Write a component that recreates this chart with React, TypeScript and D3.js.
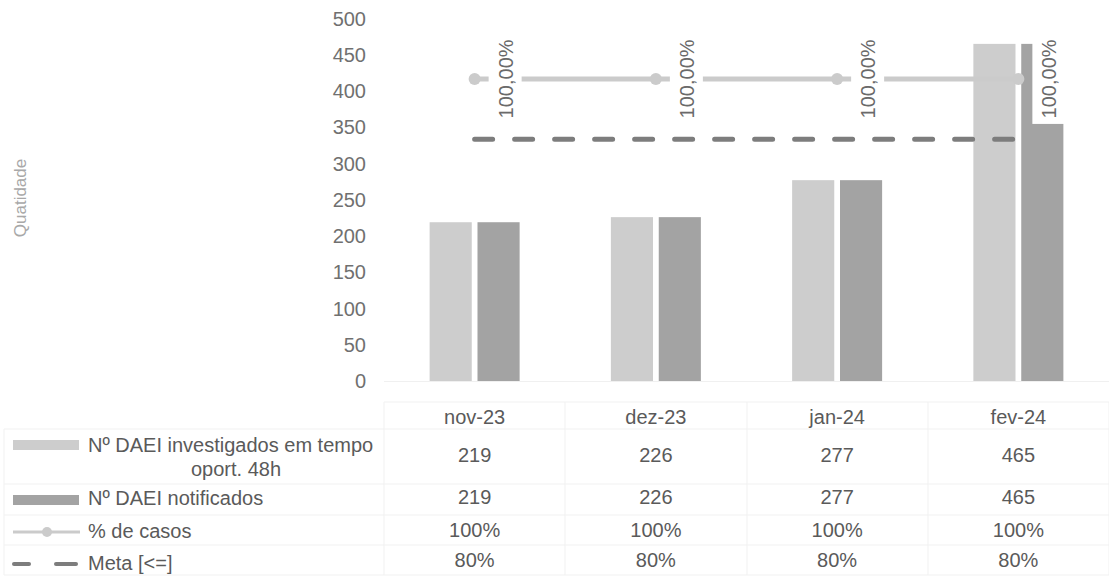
import React from "react";
import * as d3 from "d3";

const categories = ["nov-23", "dez-23", "jan-24", "fev-24"];
const investigados = [219, 226, 277, 465];
const notificados = [219, 226, 277, 465];
const pctCasos = [1, 1, 1, 1];
const meta = [0.8, 0.8, 0.8, 0.8];
const yTicks = [0, 50, 100, 150, 200, 250, 300, 350, 400, 450, 500];
const seriesNames = ["Nº DAEI investigados em tempo oport. 48h", "Nº DAEI notificados", "% de casos", "Meta [<=]"];
const pctRowLabels = ["100%", "100%", "100%", "100%"];
const metaRowLabels = ["80%", "80%", "80%", "80%"];

const FONT = "Liberation Sans, Arial, sans-serif";
const LIGHT = "#cdcdcd";
const DARK = "#a3a3a3";
const PCT = "#cbcbcb";
const META = "#7d7d7d";
const TXT = "#5a5a5a";
const FS = 20;

export default function App() {
  const W = 1109, H = 577;
  const plotLeft = 384, plotRight = 1109;
  const y0 = 381, yTop = 18.5;

  const x = d3.scaleBand<string>().domain(categories).range([plotLeft, plotRight]).padding(0);
  const sub = d3.scaleBand<string>().domain(["a", "b"]).range([-45, 45]).paddingInner(0.12);
  const y = d3.scaleLinear().domain([0, 500]).range([y0, yTop]);
  const y2 = d3.scaleLinear().domain([0, 1.2]).range([y0, yTop]);
  const cx = (c: string) => (x(c) as number) + x.bandwidth() / 2;

  const lineGen = d3.line<number>().x((_, i) => cx(categories[i])).y((d) => y2(d));

  const rowY = { header: 417, r1: 455, r2: 497, r3: 530, r4: 560 };
  const hLines = [402, 429, 484, 515, 545, 575];
  const vLines = [4, 384, 565, 747, 928, 1109];

  return (
    <svg width={W} height={H} style={{ position: "absolute", left: 0, top: 0, background: "#fff" }} fontFamily={FONT}>
      <rect x={0} y={0} width={W} height={H} fill="#fff" />
      {/* y-axis title */}
      <text transform="translate(20,198) rotate(-90)" textAnchor="middle" dominantBaseline="central" fontSize={17} fill="#a8a8a8">
        Quatidade
      </text>
      {/* y ticks */}
      {yTicks.map((t) => (
        <text key={t} x={366} y={y(t)} textAnchor="end" dominantBaseline="central" fontSize={FS} fill="#707070">
          {t}
        </text>
      ))}
      {/* faint baseline */}
      <line x1={plotLeft} x2={plotRight} y1={y0 + 0.5} y2={y0 + 0.5} stroke="#f0f0f0" />
      {/* bars */}
      {categories.map((c, i) => (
        <g key={c}>
          <rect x={cx(c) + (sub("a") as number)} y={y(investigados[i])} width={sub.bandwidth()} height={y0 - y(investigados[i])} fill={LIGHT} />
          <rect x={cx(c) + (sub("b") as number)} y={y(notificados[i])} width={sub.bandwidth()} height={y0 - y(notificados[i])} fill={DARK} />
        </g>
      ))}
      {/* meta dashed line */}
      <path d={lineGen(meta) || ""} fill="none" stroke={META} strokeWidth={5} strokeDasharray="18 22" strokeLinecap="round" />
      {/* percent line */}
      <path d={lineGen(pctCasos) || ""} fill="none" stroke={PCT} strokeWidth={5} />
      {pctCasos.map((v, i) => (
        <circle key={i} cx={cx(categories[i])} cy={y2(v)} r={6} fill={PCT} />
      ))}
      {/* data labels */}
      {pctCasos.map((v, i) => {
        const px = cx(categories[i]);
        const py = y2(v);
        return (
          <g key={"l" + i}>
            <rect x={px + 14} y={py - 45} width={33} height={90} fill="#fff" />
            <text transform={`translate(${px + 31},${py}) rotate(-90)`} textAnchor="middle" dominantBaseline="central" fontSize={FS} fill="#6a6a6a">
              {d3.format(".2f")(v * 100).replace(".", ",") + "%"}
            </text>
          </g>
        );
      })}
      {/* table grid */}
      <g stroke="#f1f1f1" strokeWidth={1}>
        <line x1={plotLeft} x2={plotRight} y1={hLines[0]} y2={hLines[0]} />
        {hLines.slice(1).map((h) => (
          <line key={h} x1={vLines[0]} x2={plotRight} y1={h} y2={h} />
        ))}
        <line x1={vLines[0]} x2={vLines[0]} y1={hLines[1]} y2={hLines[5]} />
        {vLines.slice(1).map((v) => (
          <line key={v} x1={v} x2={v} y1={hLines[0]} y2={hLines[5]} />
        ))}
      </g>
      {/* table header */}
      {categories.map((c) => (
        <text key={"h" + c} x={cx(c)} y={rowY.header} textAnchor="middle" dominantBaseline="central" fontSize={FS} fill={TXT}>
          {c}
        </text>
      ))}
      {/* table values */}
      {categories.map((c, i) => (
        <g key={"v" + c} fontSize={FS} fill={TXT} textAnchor="middle">
          <text x={cx(c)} y={rowY.r1} dominantBaseline="central">{investigados[i]}</text>
          <text x={cx(c)} y={rowY.r2} dominantBaseline="central">{notificados[i]}</text>
          <text x={cx(c)} y={rowY.r3} dominantBaseline="central">{pctRowLabels[i]}</text>
          <text x={cx(c)} y={rowY.r4} dominantBaseline="central">{metaRowLabels[i]}</text>
        </g>
      ))}
      {/* legend keys */}
      <rect x={13} y={440} width={66} height={10} fill={LIGHT} />
      <rect x={13} y={495} width={66} height={10} fill={DARK} />
      <line x1={13} x2={80} y1={532} y2={532} stroke={PCT} strokeWidth={3} />
      <circle cx={47} cy={532} r={5} fill={PCT} />
      <line x1={14} x2={29} y1={564} y2={564} stroke={META} strokeWidth={4} strokeLinecap="round" />
      <line x1={56} x2={76} y1={564} y2={564} stroke={META} strokeWidth={4} strokeLinecap="round" />
      {/* legend texts */}
      <g fontSize={FS} fill={TXT}>
        <text x={88} y={445} dominantBaseline="central">Nº DAEI investigados em tempo</text>
        <text x={236} y={469} dominantBaseline="central" textAnchor="middle">oport. 48h</text>
        <text x={88} y={498} dominantBaseline="central">{seriesNames[1]}</text>
        <text x={88} y={531} dominantBaseline="central">{seriesNames[2]}</text>
        <text x={88} y={563} dominantBaseline="central">{seriesNames[3]}</text>
      </g>
    </svg>
  );
}
